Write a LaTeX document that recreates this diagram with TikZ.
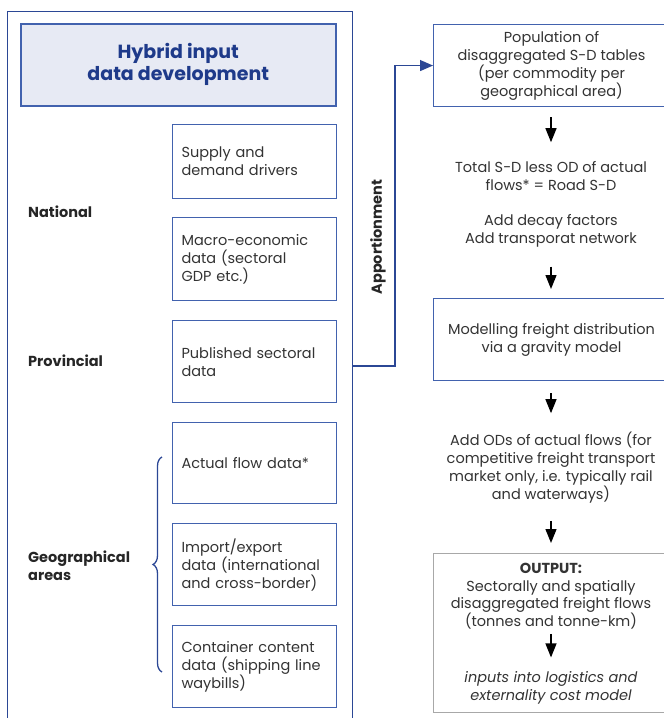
\documentclass[tikz,border=0pt]{standalone}
\usepackage{fontspec}
\setmainfont{Poppins}
\usetikzlibrary{arrows.meta,decorations.pathreplacing,calc}
\definecolor{fblue}{HTML}{2B4795}
\definecolor{bblue}{HTML}{4262AE}
\definecolor{tblue}{HTML}{1E3A8A}
\definecolor{tfill}{HTML}{E7EAF4}
\definecolor{txt}{HTML}{333333}
\definecolor{gbox}{HTML}{A8A8A8}
\begin{document}
\begin{tikzpicture}[x=1pt,y=-1pt,
  every node/.style={text=txt, font=\fontsize{14.5}{18}\selectfont},
  frame/.style={draw=fblue, line width=1.2pt, anchor=north west, minimum width=345pt, inner sep=0pt},
  titlebox/.style={draw=bblue, fill=tfill, line width=1.5pt, anchor=north west, minimum width=315pt, minimum height=82pt, align=center, text=tblue, font=\fontsize{19}{22}\selectfont\bfseries},
  srcbox/.style={draw=bblue, line width=1.1pt, anchor=north west, minimum width=162pt, text width=146pt, inner xsep=9pt, inner ysep=0pt, align=left},
  level/.style={anchor=west, align=left, inner sep=0pt, font=\fontsize{14.5}{18}\selectfont\bfseries, text=black!85},
  stepbox/.style={draw=bblue, line width=1.1pt, anchor=north west, minimum width=236pt, minimum height=82pt, align=center, inner sep=0pt},
  outbox/.style={draw=gbox, line width=1pt, anchor=north west, minimum width=236pt, minimum height=159pt, inner sep=0pt},
  ctext/.style={align=center, inner sep=0pt},
  darr/.style={draw=black, line width=1.3pt, -{Triangle[length=14pt,width=11pt]}},
  conn/.style={draw=fblue, line width=1.2pt, -{Triangle[length=13pt,width=11pt]}},
  brc/.style={draw=fblue, line width=1.3pt, decorate, decoration={brace, amplitude=9pt}}
]
\useasboundingbox (0,0) rectangle (664,718);
\clip (0,0) rectangle (664,718);

% left frame
\node[frame, minimum height=740pt] (frame) at (7,11) {};
\node[titlebox] (title) at (20,23) {Hybrid input\\data development};

\node[srcbox, minimum height=74pt] (s1) at (172,124) {Supply and\\demand drivers};
\node[srcbox, minimum height=83pt] (s2) at (172,217) {Macro-economic\\data (sectoral\\GDP etc.)};
\node[srcbox, minimum height=82pt] (s3) at (172,320) {Published sectoral\\data};
\node[srcbox, minimum height=81pt] (s4) at (172,422) {Actual flow data*};
\node[srcbox, minimum height=82pt] (s5) at (172,523) {Import/export\\data (international\\and cross-border)};
\node[srcbox, minimum height=82pt] (s6) at (172,625) {Container content\\data (shipping line\\waybills)};

\node[level] (nat) at (28,212) {National};
\node[level] (prov) at (28,361) {Provincial};
\node[level] (geo) at (28,566) {Geographical\\areas};

\coordinate (bt) at (162,672);
\coordinate (bb) at (162,457);
\draw[brc] (bt) -- (bb);

% apportionment connector
\coordinate (cstart) at (352,366);
\node[rotate=90, inner sep=0pt, font=\fontsize{14.5}{18}\selectfont\bfseries, text=black!85] (app) at (378,237) {Apportionment};

% right column
\node[stepbox] (A) at (433,24) {Population of\\disaggregated S-D tables\\(per commodity per\\geographical area)};
\draw[conn] (cstart) -- ++(43,0) |- (A.west);

\node[ctext] (t1) at (551,176) {Total S-D less OD of actual\\flows* = Road S-D};
\node[ctext] (t2) at (551,231) {Add decay factors\\Add transporat network};
\node[stepbox] (B) at (433,298) {Modelling freight distribution\\via a gravity model};
\node[ctext] (t3) at (551,468) {Add ODs of actual flows (for\\competitive freight transport\\market only, i.e. typically rail\\and waterways)};
\node[outbox] (C) at (433,553) {};
\node[ctext, font=\fontsize{14.5}{17.5}\selectfont] (o1) at (551,596) {\textbf{OUTPUT:}\\Sectorally and spatially\\disaggregated freight flows\\(tonnes and tonne-km)};
\node[ctext, font=\fontsize{14.5}{18}\selectfont\itshape] (o2) at (551,688) {inputs into logistics and\\externality cost model};

\draw[darr, shorten <=10pt, shorten >=19pt] (A.south -| t1.north) -- (t1.north);
\draw[darr, shorten <=19pt, shorten >=9pt] (t2.south) -- (t2.south |- B.north);
\draw[darr, shorten <=12pt, shorten >=19pt] (B.south -| t3.north) -- (t3.north);
\draw[darr, shorten <=17pt, shorten >=10pt] (t3.south) -- (t3.south |- C.north);
\draw[darr, shorten <=5pt, shorten >=14pt] (o1.south) -- (o2.north);
\end{tikzpicture}
\end{document}
